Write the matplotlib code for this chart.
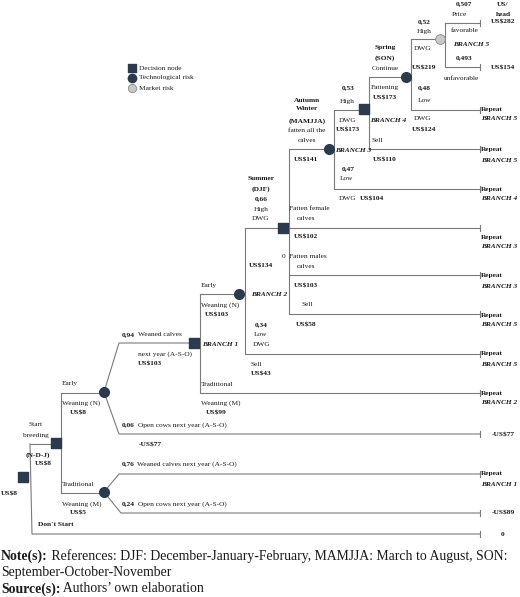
import matplotlib.pyplot as plt

plt.rcParams['font.family'] = ['Liberation Serif', 'DejaVu Serif']

END_X = 480

# nodes: (kind, x, y)  kind: d = decision, t = technological risk, m = market risk
nodes = [
    ("d", 23, 477), ("d", 56, 443), ("t", 104, 392), ("t", 104, 492),
    ("d", 194, 343), ("t", 239, 294), ("d", 283, 228), ("t", 329, 149),
    ("d", 364, 109), ("t", 406, 77), ("m", 440, 39),
]

# tree connectors as polylines
paths = [
    [(30, 444), (56, 444)], [(30, 444), (32, 534), (END_X, 534)],
    [(61, 393), (61, 493)], [(61, 393), (104, 393)], [(61, 493), (104, 493)],
    [(104, 392), (119, 343), (194, 343)], [(104, 392), (119, 434), (END_X, 434)],
    [(104, 492), (119, 474), (END_X, 474)], [(104, 492), (121, 513), (END_X, 513)],
    [(200, 294), (200, 393), (END_X, 393)], [(200, 294), (239, 294)],
    [(245, 228), (245, 354), (END_X, 354)], [(245, 228), (283, 228)],
    [(289, 149), (289, 314), (END_X, 314)], [(289, 149), (329, 149)],
    [(283, 228), (END_X, 228)], [(289, 275), (END_X, 275)],
    [(334, 110), (334, 189), (END_X, 189)], [(334, 110), (364, 110)],
    [(369, 77), (369, 149), (END_X, 149)], [(369, 77), (406, 77)],
    [(411, 39), (411, 110), (END_X, 110)], [(411, 39), (440, 39)],
    [(445, 23), (445, 67), (END_X, 67)], [(445, 23), (END_X, 23)],
]
end_ticks = [23, 67, 110, 149, 189, 228, 275, 314, 354, 393, 434, 474, 513, 534]

# labels: (x, y, text, style)  style: n normal, b bold, i bold italic, l left-aligned normal
labels = [
    (464, 4, "0,507", "b"), (459, 14, "Price", "n"), (503, 4, "US/", "b"), (503, 14, "head", "b"),
    (503, 22, "US$282", "b"), (424, 22, "0,52", "b"), (424, 31, "High", "n"), (465, 31, "favorable", "n"),
    (471, 44, "BRANCH 5", "i"), (423, 48, "DWG", "n"), (464, 58, "0,493", "b"), (503, 68, "US$154", "b"),
    (424, 68, "US$219", "b"), (462, 78, "unfavorable", "n"),
    (385, 48, "Spring", "b"), (385, 58, "(SON)", "b"), (385, 68, "Continue", "n"),
    (424, 88, "0,48", "b"), (424, 101, "Low", "n"), (423, 119, "DWG", "n"), (424, 130, "US$124", "b"),
    (385, 88, "Fattening", "n"), (385, 98, "US$173", "b"), (388, 121, "BRANCH 4", "i"),
    (371, 140, "Sell", "l"), (385, 160, "US$110", "b"),
    (348, 88, "0,53", "b"), (347, 101, "High", "n"), (348, 121, "DWG", "n"), (348, 130, "US$173", "b"),
    (307, 101, "Autumn", "b"), (307, 109, "Winter", "b"), (307, 121, "(MAMJJA)", "b"),
    (307, 130, "fatten all the", "n"), (307, 140, "calves", "n"),
    (353, 150, "BRANCH 3", "i"), (306, 160, "US$141", "b"),
    (348, 169, "0,47", "b"), (347, 179, "Low", "n"), (348, 199, "DWG", "n"), (372, 199, "US$104", "b"),
    (261, 179, "Summer", "b"), (261, 189, "(DJF)", "b"), (261, 199, "0,66", "b"),
    (261, 209, "High", "n"), (261, 219, "DWG", "n"),
    (309, 209, "Fatten female", "n"), (306, 219, "calves", "n"), (306, 237, "US$102", "b"),
    (284, 257, "0", "n"), (308, 257, "Fatten males", "n"), (306, 267, "calves", "n"),
    (261, 266, "US$134", "b"), (306, 286, "US$103", "b"), (209, 286, "Early", "n"),
    (269, 295, "BRANCH 2", "i"),
    (220, 305, "Weaning (N)", "n"), (217, 315, "US$103", "b"), (307, 305, "Sell", "n"), (306, 325, "US$58", "b"),
    (261, 325, "0,34", "b"), (261, 335, "Low", "n"), (262, 344, "DWG", "n"),
    (128, 335, "0,94", "b"), (160, 335, "Weaned calves", "n"), (220, 344, "BRANCH 1", "i"),
    (165, 354, "next year (A-S-O)", "n"), (150, 364, "US$103", "b"),
    (256, 364, "Sell", "n"), (261, 374, "US$43", "b"), (70, 384, "Early", "n"), (217, 384, "Traditional", "n"),
    (81, 403, "Weaning (N)", "n"), (78, 413, "US$8", "b"), (221, 403, "Weaning (M)", "n"), (216, 413, "US$99", "b"),
    (36, 425, "Start", "n"), (36, 435, "breeding", "n"),
    (128, 425, "0,06", "b"), (182, 425, "Open cows next year (A-S-O)", "n"),
    (503, 435, "-US$77", "b"), (150, 445, "-US$77", "b"),
    (38, 455, "(N-D-J)", "b"), (43, 464, "US$8", "b"),
    (128, 464, "0,76", "b"), (187, 464, "Weaned calves next year (A-S-O)", "n"),
    (78, 484, "Traditional", "n"), (9, 494, "US$8", "b"),
    (128, 504, "0,24", "b"), (182, 504, "Open cows next year (A-S-O)", "n"),
    (503, 513, "-US$89", "b"), (82, 504, "Weaning (M)", "n"), (78, 513, "US$5", "b"),
    (56, 525, "Don´t Start", "b"), (503, 534, "0", "b"),
]

# repeat labels at the right end: (y, branch)
repeats = [(109, "BRANCH 5"), (150, "BRANCH 5"), (189, "BRANCH 4"), (237, "BRANCH 3"),
           (276, "BRANCH 3"), (315, "BRANCH 5"), (354, "BRANCH 5"), (393, "BRANCH 2"),
           (474, "BRANCH 1")]

legend_items = [("d", "Decision node"), ("t", "Technological risk"), ("m", "Market risk")]

notes = [
    [("Note(s):", "bold"), (" References: DJF: December-January-February, MAMJJA: March to August, SON:", "normal")],
    [("September-October-November", "normal")],
    [("Source(s):", "bold"), (" Authors’ own elaboration", "normal")],
]

DARK = "#2d3a4e"
LINE = "#7a7a7a"
TXT = "#1a1a1a"

fig = plt.figure(figsize=(5.2, 5.97), dpi=100)
ax = fig.add_axes([0, 0, 1, 1])
ax.set_xlim(0, 520)
ax.set_ylim(597, 0)
ax.axis("off")

for p in paths:
    ax.plot([q[0] for q in p], [q[1] for q in p], color=LINE, lw=0.8, zorder=1)
for y in end_ticks:
    ax.plot([END_X, END_X], [y - 3, y + 3], color=LINE, lw=0.8, zorder=1)


def draw_node(kind, x, y, size=7):
    if kind == "d":
        ax.scatter(x, y, marker="s", s=size ** 2, color=DARK, zorder=3)
    elif kind == "t":
        ax.scatter(x, y, marker="o", s=size ** 2, color=DARK, zorder=3)
    else:
        ax.scatter(x, y, marker="o", s=size ** 2, color="#c8c8c8", edgecolor="#888888", lw=0.6, zorder=3)


for kind, x, y in nodes:
    draw_node(kind, x, y)

for x, y, t, st in labels:
    ha = "left" if st == "l" else "center"
    ax.text(x, y, t, ha=ha, va="center", fontsize=5.3, color=TXT,
            fontweight="bold" if st in "bi" else "normal",
            fontstyle="italic" if st == "i" else "normal")

for y, b in repeats:
    ax.text(481, y, "Repeat", ha="left", va="center", fontsize=5.3, color=TXT, fontweight="bold")
    ax.text(481, y + 10, b, ha="left", va="center", fontsize=5.3, color=TXT,
            fontweight="bold", fontstyle="italic")

for i, (kind, t) in enumerate(legend_items):
    draw_node(kind, 132, 68 + i * 10, size=6)
    ax.text(139, 68 + i * 10, t, ha="left", va="center", fontsize=5.3, color=TXT)

for i, parts in enumerate(notes):
    x = 1
    y = 556 + i * 16.5
    for t, w in parts:
        txt = ax.text(x, y, t, ha="left", va="center", fontsize=9.9, fontweight=w, color=TXT)
        fig.canvas.draw()
        bb = txt.get_window_extent().transformed(ax.transData.inverted())
        x = bb.x1

fig.savefig("out.png", dpi=100)
